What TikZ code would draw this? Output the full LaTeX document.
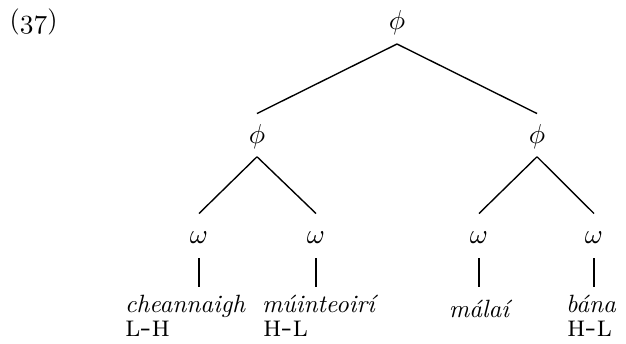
\documentclass[tikz,border=0pt]{standalone}
\begin{document}
\begin{tikzpicture}[x=0.4pt,y=-0.4pt,
  font=\fontsize{10.5}{12.6}\selectfont,
  line width=0.55pt,
  cat/.style={inner sep=0pt, outer sep=0pt, text height=11.8pt, text depth=6pt, anchor=base},
  word/.style={inner sep=0pt, outer sep=0pt, text height=10pt, text depth=0pt, anchor=base west, font=\itshape},
  tone/.style={inner sep=0pt, outer sep=0pt, text depth=0pt, anchor=base west, font=\fontsize{12}{14}\selectfont\scshape}]
\useasboundingbox (0,0) rectangle (626,343);
\node[inner sep=0pt, anchor=base west] (ex) at (9,28) {({\usefont{OML}{cmm}{m}{it}37})};
% phrase nodes
\node[cat] (root) at (397,29) {$\phi$};
\node[cat, text depth=5.5pt] (pL) at (257,143) {$\phi$};
\node[cat, text depth=5.5pt] (pR) at (537,143) {$\phi$};
% word nodes
\node[cat] (w1) at (199,243) {$\omega$};
\node[cat] (w2) at (316,243) {$\omega$};
\node[cat] (w3) at (479,243) {$\omega$};
\node[cat] (w4) at (594,243) {$\omega$};
% leaves
\node[word] (c1) at (125,312) {cheannaigh};
\node[word] (c2) at (262,312) {múinteoirí};
\node[word, anchor=base, text height=12pt] (c3) at (479,317) {málaí};
\node[word] (c4) at (566,312) {bána};
\node[tone] (t1) at (125,336) {l-h};
\node[tone] (t2) at (263,336) {h-l};
\node[tone] (t4) at (567,336) {h-l};
% branches
\draw (root.south) -- (pL.north);
\draw (root.south) -- (pR.north);
\draw (pL.south) -- (w1.north);
\draw (pL.south) -- (w2.north);
\draw (pR.south) -- (w3.north);
\draw (pR.south) -- (w4.north);
\draw (w1.south) -- (w1.south |- c1.north);
\draw (w2.south) -- (w2.south |- c2.north);
\draw (w3.south) -- (w3.south |- c3.north);
\draw (w4.south) -- (w4.south |- c4.north);
\end{tikzpicture}
\end{document}
